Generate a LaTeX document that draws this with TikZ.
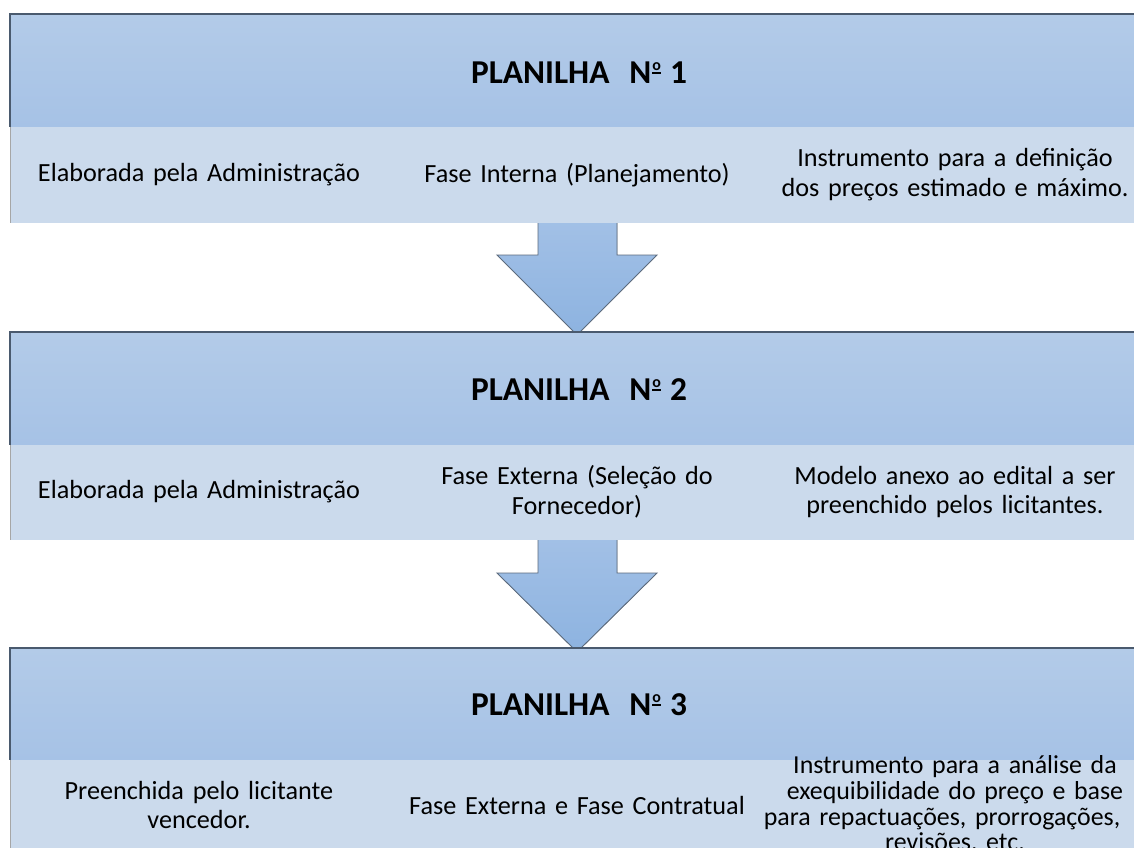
\documentclass[tikz,border=0pt]{standalone}
\usepackage{fontspec}
\setmainfont{Carlito}[WordSpace=0.8]
\definecolor{hdrtop}{HTML}{B3CBE8}
\definecolor{hdrbot}{HTML}{A6C2E6}
\definecolor{rowc}{HTML}{CBDAEC}
\definecolor{edgec}{HTML}{4A5A6E}
\definecolor{arrtop}{HTML}{A2C0E6}
\definecolor{arrbot}{HTML}{8DB3E0}
\newcommand\ordo{\raisebox{10bp}{\fontsize{16}{16}\selectfont\bfseries\setbox0\hbox{o}\vbox{\hbox{o}\kern1.5bp\hrule height 2bp width \wd0}}}
\newcommand\plan[1]{PLANILHA\hspace{20bp}N\kern1bp\ordo\hspace{9bp}#1}
\begin{document}
\begin{tikzpicture}[x=1bp,y=-1bp,
  hdr/.style={top color=hdrtop,bottom color=hdrbot,draw=none},
  rowbox/.style={fill=rowc,draw=none},
  edge/.style={draw=edgec,line width=1.2bp},
  rowedge/.style={draw=gray!70,line width=0.8bp},
  title/.style={font=\fontsize{33.5}{36}\selectfont\bfseries,inner sep=0},
  body/.style={font=\fontsize{26.3}{30}\selectfont,text width=376bp,align=center,inner sep=0},
  small/.style={font=\fontsize{26}{25.7}\selectfont,text width=420bp,align=center,inner sep=0},
  arrfill/.style={top color=arrtop,bottom color=arrbot,draw=none},
  arredge/.style={draw=edgec!90,line width=0.9bp,line join=miter}]
\useasboundingbox (0,0) rectangle (1134,848);
\clip (0,0) rectangle (1134,848);
\fill[white] (0,0) rectangle (1134,848);

% ---- arrows (behind blocks) ----
\foreach \s/\sh/\t in {223/255/335,540/573/652}{
  \fill[arrfill] (538,\s-2) -- (538,\sh) -- (497,\sh) -- (577,\t) -- (657,\sh) -- (617,\sh) -- (617,\s-2) -- cycle;
  \draw[arredge] (538,\s) -- (538,\sh) -- (497,\sh) -- (577,\t) -- (657,\sh) -- (617,\sh) -- (617,\s);
}

% ---- block 1 ----
\path[hdr] (10,14) rectangle (1144,127);
\path[rowbox] (10,127) rectangle (1144,223);
\draw[edge] (1144,14) -- (10,14) -- (10,127);
\draw[rowedge] (10,127) -- (10,223);
\node[title] (h1) at (579,73) {\plan{1}};
\node[body] (r1a) at (199,175) {Elaborada pela Administração};
\node[body] (r1b) at (577,175) {Fase Interna (Planejamento)};
\node[body] (r1c) at (955,175) {Instrumento para a definição\\dos preços estimado e máximo.};

% ---- block 2 ----
\path[hdr] (10,332) rectangle (1144,445);
\path[rowbox] (10,445) rectangle (1144,540);
\draw[edge] (1144,332) -- (10,332) -- (10,445);
\draw[rowedge] (10,445) -- (10,540);
\node[title] (h2) at (579,390) {\plan{2}};
\node[body] (r2a) at (199,492) {Elaborada pela Administração};
\node[body] (r2b) at (577,492) {Fase Externa (Seleção do\\Fornecedor)};
\node[body] (r2c) at (955,492) {Modelo anexo ao edital a ser\\preenchido pelos licitantes.};

% ---- block 3 ----
\path[hdr] (10,648) rectangle (1144,760);
\path[rowbox] (10,760) rectangle (1144,860);
\draw[edge] (1144,648) -- (10,648) -- (10,760);
\draw[rowedge] (10,760) -- (10,860);
\node[title] (h3) at (579,705) {\plan{3}};
\node[body] (r3a) at (199,805) {Preenchida pelo licitante\\vencedor.};
\node[body] (r3b) at (577,805) {Fase Externa e Fase Contratual};
\node[small] (r3c) at (955,805) {Instrumento para a análise da\\exequibilidade do preço e base\\para repactuações, prorrogações,\kern26bp\mbox{}\\revisões, etc.};
\end{tikzpicture}
\end{document}
